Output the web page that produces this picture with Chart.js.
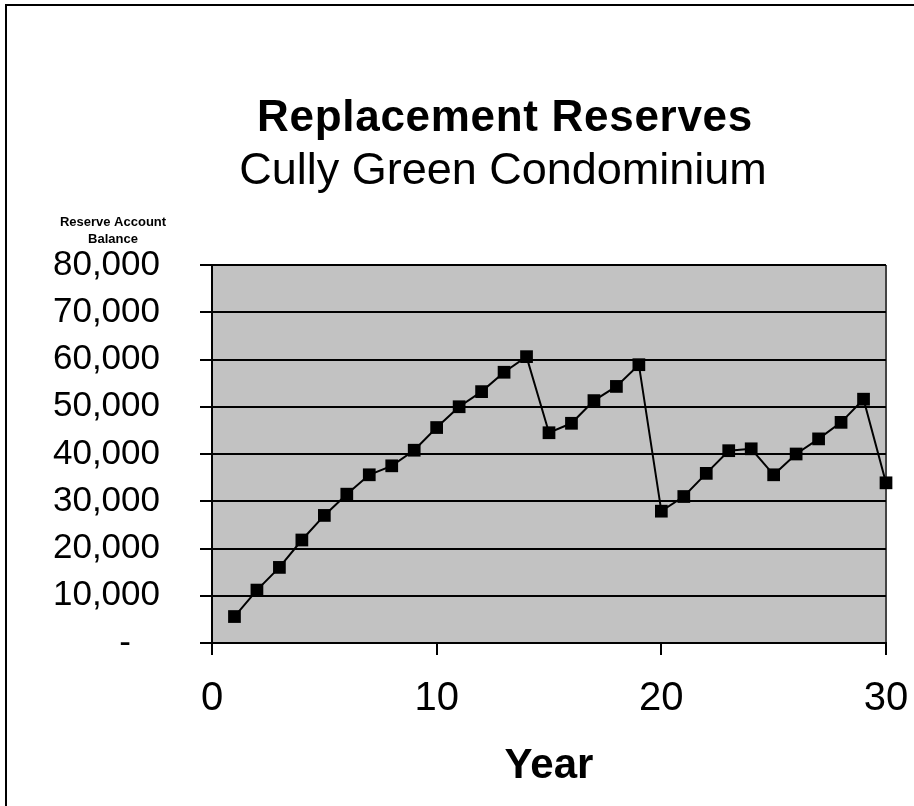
<!DOCTYPE html>
<html>
<head>
<meta charset="utf-8">
<script src="https://cdn.jsdelivr.net/npm/chart.js@4/dist/chart.umd.min.js"></script>
<style>
  html, body { margin: 0; padding: 0; background: white; }
  #wrap { position: absolute; left: 0; top: 0; width: 914px; height: 806px; }
</style>
</head>
<body>
<div id="wrap"><canvas id="reserves-chart" width="914" height="806"></canvas></div>
<script>
const years = [1, 2, 3, 4, 5, 6, 7, 8, 9, 10, 11, 12, 13, 14, 15,
  16, 17, 18, 19, 20, 21, 22, 23, 24, 25, 26, 27, 28, 29, 30];
const balances = [5600, 11200, 16000, 21800, 27000, 31500, 35600, 37500, 40800, 45600,
  50000, 53200, 57300, 60600, 44500, 46500, 51300, 54300, 58900, 27900,
  31000, 35900, 40700, 41100, 35600, 40000, 43200, 46700, 51600, 33900];
const titleText = "Replacement Reserves";
const subtitleText = "Cully Green Condominium";
const yTitleLines = ["Reserve Account", "Balance"];
const xTitleText = "Year";

const FONT = 'Arial, "Liberation Sans", sans-serif';

function makePoints() {
  const points = [];
  for (let i = 0; i < years.length; i++) {
    points.push({ x: years[i], y: balances[i] });
  }
  return points;
}

function drawText(ctx, text, font, spacing, x, y) {
  ctx.font = font;
  ctx.letterSpacing = spacing;
  ctx.fillText(text, x, y);
  ctx.letterSpacing = "0px";
}

// gray plot background, page frame, titles and the small caption above the y labels
const decorations = {
  id: "decorations",
  beforeDraw(chart) {
    const ctx = chart.ctx;
    const a = chart.chartArea;
    ctx.save();
    ctx.fillStyle = "#c2c2c2";
    ctx.fillRect(a.left, a.top, a.right - a.left, a.bottom - a.top);
    ctx.fillStyle = "black";
    ctx.fillRect(5, 4, 909, 2);
    ctx.fillRect(5, 4, 2, 802);
    ctx.restore();
  },
  afterDraw(chart) {
    const ctx = chart.ctx;
    ctx.save();
    ctx.fillStyle = "black";
    ctx.textAlign = "center";
    ctx.textBaseline = "alphabetic";
    drawText(ctx, titleText, "bold 44px " + FONT, "0.7px", 505, 131);
    drawText(ctx, subtitleText, "45px " + FONT, "0px", 503, 184);
    ctx.textBaseline = "middle";
    drawText(ctx, yTitleLines[0], "bold 13px " + FONT, "0px", 113, 222);
    drawText(ctx, yTitleLines[1], "bold 13px " + FONT, "0px", 113, 239);
    ctx.restore();
  },
};

Chart.defaults.font.family = FONT;
Chart.defaults.color = "black";

new Chart(document.getElementById("reserves-chart"), {
  type: "scatter",
  data: {
    datasets: [
      {
        data: makePoints(),
        showLine: true,
        borderColor: "black",
        borderWidth: 2,
        backgroundColor: "black",
        pointStyle: "rect",
        pointRadius: 9,
        pointBorderWidth: 0,
        tension: 0,
        clip: false,
      },
    ],
  },
  options: {
    responsive: false,
    animation: false,
    layout: { padding: { left: 0, right: 28, top: 265, bottom: 0 } },
    scales: {
      x: {
        type: "linear",
        min: 0,
        max: 30,
        afterFit: (scale) => {
          scale.height = 163;
          scale.paddingLeft = 0;
          scale.paddingRight = 0;
        },
        ticks: { stepSize: 10, padding: 20, font: { size: 40 } },
        grid: {
          drawOnChartArea: true,
          color: (ctx) => (ctx.tick && ctx.tick.value === 30 ? "#444" : "rgba(0,0,0,0)"),
          tickColor: "black",
          tickLength: 12,
          lineWidth: 2,
        },
        border: { display: true, color: "black", width: 2 },
        title: {
          display: true,
          text: xTitleText,
          font: { size: 42, weight: "bold" },
          padding: { top: 0, bottom: 14 },
        },
      },
      y: {
        min: 0,
        max: 80000,
        afterFit: (scale) => {
          scale.width = 212;
          scale.paddingTop = 0;
          scale.paddingBottom = 0;
        },
        ticks: {
          stepSize: 10000,
          padding: 40,
          font: { size: 35 },
          callback: (value) => (value === 0 ? "-   " : value.toLocaleString("en-US")),
        },
        grid: { color: "black", tickLength: 12, lineWidth: 2 },
        border: { display: true, color: "black", width: 2 },
      },
    },
    plugins: {
      legend: { display: false },
      tooltip: { enabled: false },
      title: { display: false },
    },
  },
  plugins: [decorations],
});
</script>
</body>
</html>
